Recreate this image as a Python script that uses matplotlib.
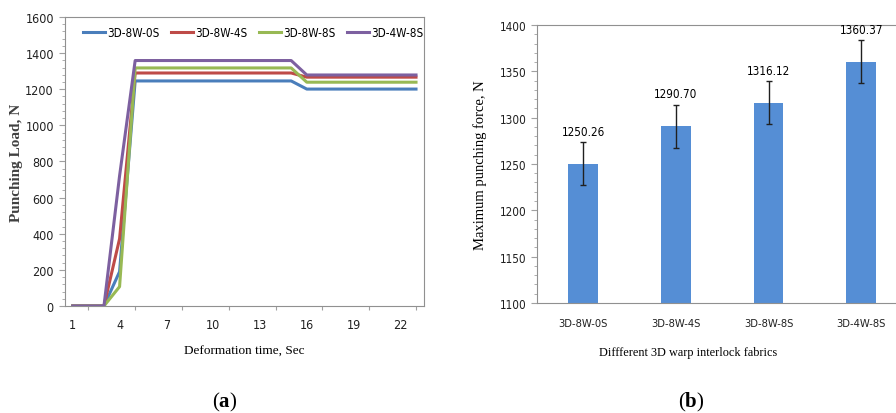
import matplotlib
matplotlib.use("Agg")
import matplotlib.pyplot as plt
import numpy as np
from matplotlib import font_manager
from matplotlib.ticker import MultipleLocator

plt.rcParams['mathtext.fontset'] = 'custom'
plt.rcParams['mathtext.rm'] = 'Liberation Serif'
plt.rcParams['mathtext.bf'] = 'Liberation Serif:bold'

# narrow sans for the Excel-like tick labels, if there is one installed
narrow = None
for f in font_manager.fontManager.ttflist:
    if 'Narrow' in f.name or f.stretch in ('condensed', 'semi-condensed'):
        narrow = f
        break
if narrow is not None:
    NARROW = {'family': narrow.name, 'stretch': narrow.stretch}
    nscale = 1.0
else:
    NARROW = {'family': 'Liberation Sans'}
    nscale = 0.9
SERIF = ['Liberation Serif', 'DejaVu Serif']

# (a) punching load vs deformation time, 23 readings
time_s = list(range(1, 24))
load_8w0s = [0, 0, 0, 190] + [1246] * 11 + [1201] * 8
load_8w4s = [0, 0, 0, 372] + [1290] * 11 + [1267] * 8
load_8w8s = [0, 0, 0, 107] + [1318] * 11 + [1239] * 8
load_4w8s = [0, 0, 0, 720] + [1359] * 11 + [1279] * 8
series_names = ['3D-8W-0S', '3D-8W-4S', '3D-8W-8S', '3D-4W-8S']
series_colors = ['#4a7ebb', '#be4b48', '#98b954', '#7d60a0']

# (b) maximum punching force
fabrics = ['3D-8W-0S', '3D-8W-4S', '3D-8W-8S', '3D-4W-8S']
max_force = [1250.26, 1290.70, 1316.12, 1360.37]
force_err = [23, 23.5, 23, 23]

fig = plt.figure(figsize=(8.96, 4.14), dpi=100)

# ---- left chart
ax1 = fig.add_axes([0.0725, 0.2585, 0.4005, 0.698])
for vals, name, col in zip([load_8w0s, load_8w4s, load_8w8s, load_4w8s], series_names, series_colors):
    ax1.plot(time_s, vals, color=col, lw=2.2, label=name)
ax1.set_xlim(0.5, 23.5)
ax1.set_ylim(0, 1600)
ax1.set_xticks(range(2, 24, 3))
ax1.set_xticklabels([])
ax1.set_xticks(range(1, 23, 3), [str(v) for v in range(1, 23, 3)], minor=True)
ax1.tick_params(axis='x', which='major', length=3, color='#a0a0a0', direction='out')
ax1.tick_params(axis='x', which='minor', length=0, pad=9, labelsize=9 * nscale)
ax1.yaxis.set_major_locator(MultipleLocator(200))
ax1.yaxis.set_minor_locator(MultipleLocator(40))
ax1.tick_params(axis='y', which='major', length=4, color='#a0a0a0', labelsize=9 * nscale, pad=4)
ax1.tick_params(axis='y', which='minor', length=2, color='#a0a0a0')
for lab in ax1.get_xticklabels(minor=True) + ax1.get_yticklabels():
    lab.set(**NARROW)
    lab.set_color('#202020')
for sp in ax1.spines.values():
    sp.set_color('#909090')
ax1.set_xlabel('Deformation time, Sec', family=SERIF, fontsize=9.5)
ax1.xaxis.set_label_coords(0.5, -0.135)
ax1.set_ylabel('Punching Load, N', family=SERIF, fontsize=11, fontweight='bold', color='#404040')
ax1.yaxis.set_label_coords(-0.118, 0.5)
ax1.legend(loc='upper center', bbox_to_anchor=(0.525, 1.005), ncol=4, frameon=False,
           handlelength=1.9, handletextpad=0.2, columnspacing=0.95,
           prop=dict(NARROW, size=8.4 * nscale))

# ---- right chart
ax2 = fig.add_axes([0.599, 0.266, 0.414, 0.671])
xpos = np.arange(len(fabrics))
ax2.bar(xpos, max_force, width=0.32, color='#558ed5')
ax2.errorbar(xpos, max_force, yerr=force_err, fmt='none', ecolor='#202020',
             elinewidth=1, capsize=2, capthick=1)
for x, v, e in zip(xpos, max_force, force_err):
    ax2.annotate(f'{v:.2f}', (x, v + e), xytext=(0, 3), textcoords='offset points',
                 ha='center', va='bottom', fontsize=8.4 * nscale, **NARROW)
ax2.set_xlim(-0.5, 3.5)
ax2.set_ylim(1100, 1400)
ax2.set_xticks(xpos, fabrics)
ax2.yaxis.set_major_locator(MultipleLocator(50))
ax2.yaxis.set_minor_locator(MultipleLocator(10))
ax2.tick_params(axis='x', length=0, pad=11, labelsize=8 * nscale)
ax2.tick_params(axis='y', which='major', length=4, color='#a0a0a0', labelsize=8.4 * nscale, pad=3)
ax2.tick_params(axis='y', which='minor', length=2, color='#a0a0a0')
for lab in ax2.get_xticklabels() + ax2.get_yticklabels():
    lab.set(**NARROW)
    lab.set_color('#202020')
for sp in ax2.spines.values():
    sp.set_color('#909090')
ax2.set_xlabel('Diffferent 3D warp interlock fabrics', family=SERIF, fontsize=8.8)
ax2.xaxis.set_label_coords(0.407, -0.155)
ax2.set_ylabel('Maximum punching force, N', family=SERIF, fontsize=10.5)
ax2.yaxis.set_label_coords(-0.134, 0.5)

# panel captions
fig.text(0.251, 0.027, r'$\mathrm{(}\mathbf{a}\mathrm{)}$', ha='center', va='center', fontsize=15)
fig.text(0.772, 0.027, r'$\mathrm{(}\mathbf{b}\mathrm{)}$', ha='center', va='center', fontsize=15)

fig.savefig('out.png', dpi=100)
